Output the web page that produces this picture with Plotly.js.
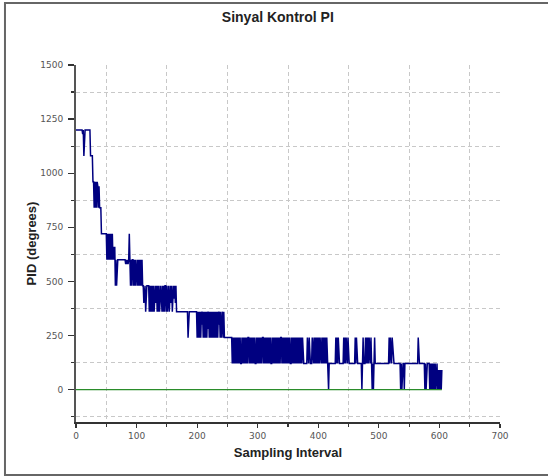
<!DOCTYPE html>
<html>
<head>
<meta charset="utf-8">
<script src="https://cdn.plot.ly/plotly-3.0.1.min.js"></script>
<style>html,body{margin:0;padding:0;background:#fff;}#chart{width:548px;height:476px;}</style>
</head>
<body>
<div id="chart"></div>
<script>
// PI control signal (degrees), one value per sampling interval
const pidSignal = [
1200,1200,1200,1200,1200,1200,1200,1200,1200,1200,
1200,1180,1200,1080,1200,1200,1200,1200,1200,1200,
1200,1200,1200,1200,1080,1080,1080,1080,960,960,
840,960,840,960,840,960,940,840,940,840,
840,840,720,720,720,720,720,720,720,720,
720,600,720,600,720,600,720,600,720,600,
720,600,660,600,660,480,600,480,600,600,
600,600,600,600,600,600,600,600,600,600,
600,600,580,600,580,600,580,600,720,600,
480,600,480,600,600,480,600,480,600,480,
600,600,480,600,480,600,480,600,480,600,
480,480,400,480,480,360,480,480,480,480,
480,360,480,360,480,360,480,360,480,360,
480,480,400,480,360,480,360,480,360,480,
480,420,360,480,360,480,360,480,480,360,
480,360,480,480,360,480,480,400,480,360,
480,480,420,480,400,480,360,360,360,360,
360,360,360,360,360,360,360,360,360,360,
360,360,360,360,360,240,360,360,360,360,
360,360,360,360,360,360,360,360,360,360,
240,360,240,360,240,360,240,360,300,360,
240,360,240,360,240,360,240,360,280,360,
240,360,240,360,240,360,240,360,240,360,
240,360,240,360,240,360,300,360,240,360,
240,360,360,240,360,240,240,240,240,240,
240,240,240,240,240,240,240,240,120,240,
120,240,120,240,120,240,120,240,120,240,
120,240,120,120,240,120,240,120,240,120,
240,120,240,120,240,240,120,240,120,240,
120,240,120,240,120,240,120,120,240,120,
240,120,240,120,240,120,240,120,240,240,
120,240,120,240,120,240,120,240,120,240,
120,240,120,120,240,120,240,120,240,120,
240,120,240,120,240,120,240,120,240,240,
120,240,120,240,120,240,120,240,120,240,
120,240,120,240,120,120,240,120,240,120,
240,120,240,120,240,120,240,120,240,120,
240,120,240,120,240,120,120,120,120,120,
120,120,240,120,120,240,120,120,120,120,
240,120,120,240,120,240,120,240,120,240,
120,240,120,240,120,120,240,120,240,120,
240,120,240,120,240,120,120,0,120,120,
120,120,120,120,120,120,120,120,120,240,
120,240,120,240,120,120,120,120,120,120,
120,120,240,120,240,120,240,120,120,240,
120,120,120,120,120,120,120,120,120,120,
120,240,120,240,120,120,120,120,120,120,
120,120,0,120,240,120,120,120,240,120,
240,120,240,120,240,120,120,240,120,0,
120,0,120,240,120,120,120,120,120,120,
120,120,120,120,120,120,120,120,120,120,
120,120,120,120,120,120,120,240,120,240,
120,120,240,180,120,120,120,120,120,120,
120,120,120,120,120,120,0,120,0,120,
120,120,0,120,120,120,120,120,120,120,
120,120,120,120,120,120,120,120,120,120,
120,120,120,120,120,240,120,120,120,120,
120,120,120,120,120,120,0,120,0,120,
120,120,120,120,0,120,0,120,0,120,
0,120,0,120,0,120,120,0,90,0,
90,0,90,0,90
];
// reference (setpoint) line
const refX = [0, 604];
const refY = [0, 0];

// axis ticks
const xTicks = [0, 100, 200, 300, 400, 500, 600, 700];
const xMinor = [50, 150, 250, 350, 450, 550, 650];
const yTicks = [0, 250, 500, 750, 1000, 1250, 1500];
const yMinor = [-125, 125, 375, 625, 875, 1125, 1375];

const sampleIdx = pidSignal.map((v, i) => i);

const traces = [
  {x: sampleIdx, y: pidSignal, type: 'scatter', mode: 'lines',
   line: {color: '#000080', width: 1.5}, hoverinfo: 'skip', showlegend: false},
  {x: refX, y: refY, type: 'scatter', mode: 'lines',
   line: {color: '#2a8c2a', width: 1.3}, hoverinfo: 'skip', showlegend: false}
];

const tickFont = {family: 'DejaVu Sans, Arial, sans-serif', size: 9, color: '#555'};
const gridStyle = {showgrid: true, gridcolor: '#c8c8c8', griddash: '4px,3px', gridwidth: 1};
const titleFamily = 'Liberation Sans, Arial, sans-serif';

const layout = {
  width: 548, height: 476,
  margin: {l: 76, r: 48, t: 65, b: 54},
  paper_bgcolor: '#ffffff', plot_bgcolor: '#ffffff',
  showlegend: false,
  title: {text: 'Sinyal Kontrol PI', x: 0.507, xref: 'container', xanchor: 'center',
          y: 0.964, yref: 'container', yanchor: 'middle',
          font: {family: titleFamily, size: 14, color: '#222', weight: 'bold'}},
  xaxis: {
    range: [0, 700], tickmode: 'array', tickvals: xTicks, ticktext: xTicks.map(String),
    showgrid: false, zeroline: false, showline: true, linecolor: '#333', linewidth: 2,
    ticks: 'outside', ticklen: 4, tickwidth: 1.2, tickcolor: '#333',
    tickfont: tickFont,
    minor: Object.assign({tickmode: 'array', tickvals: xMinor, ticks: 'outside', ticklen: 3, tickcolor: '#333'}, gridStyle),
    title: {text: 'Sampling Interval', standoff: 8,
            font: {family: titleFamily, size: 13, color: '#222', weight: 'bold'}}
  },
  yaxis: {
    range: [-150, 1500], tickmode: 'array', tickvals: yTicks, ticktext: yTicks.map(String),
    showgrid: false, zeroline: false, showline: true, linecolor: '#555', linewidth: 2,
    ticks: 'outside', ticklen: 6, tickwidth: 1.2, tickcolor: '#333',
    tickfont: tickFont, ticklabelstandoff: 3,
    minor: Object.assign({tickmode: 'array', tickvals: yMinor, ticks: 'outside', ticklen: 3, tickcolor: '#333'}, gridStyle),
    title: {text: 'PID (degrees)', standoff: 1,
            font: {family: titleFamily, size: 13, color: '#222', weight: 'bold'}}
  },
  shapes: [
    {type: 'rect', xref: 'paper', yref: 'paper', x0: -0.1675, x1: 1.2, y0: -0.1485, y1: 1.1737,
     line: {color: '#666', width: 2}, fillcolor: 'rgba(0,0,0,0)', layer: 'below'}
  ]
};

Plotly.newPlot('chart', traces, layout, {staticPlot: true, displayModeBar: false});
</script>
</body>
</html>
